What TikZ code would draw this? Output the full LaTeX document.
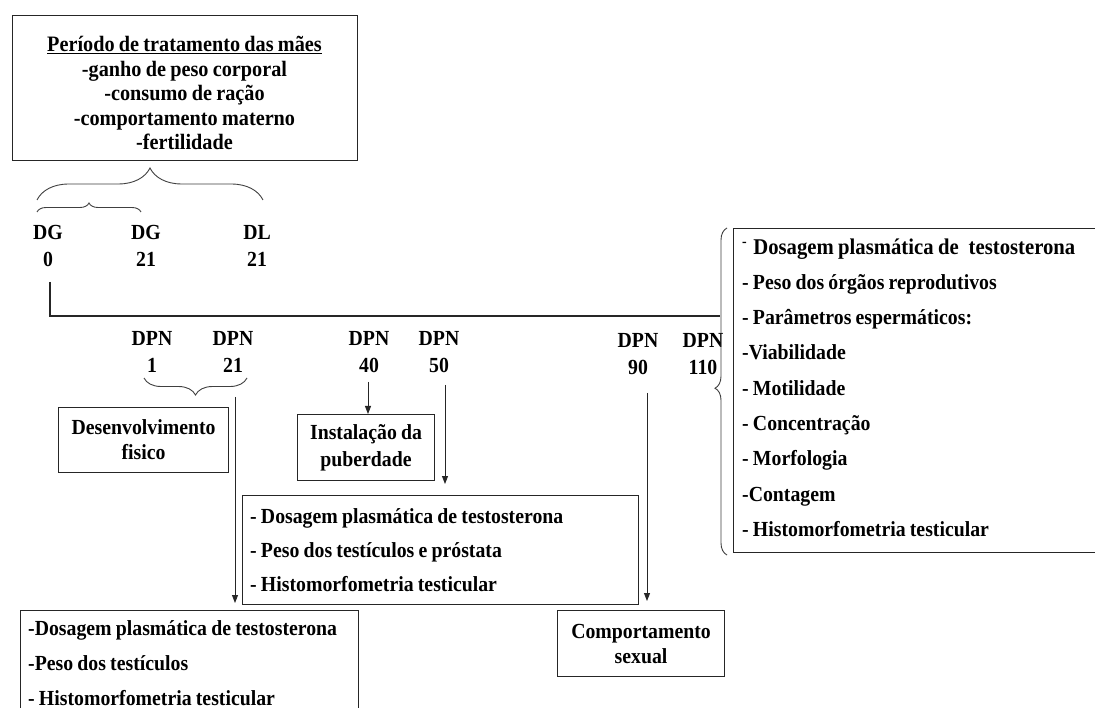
\documentclass[tikz,border=0pt]{standalone}
\usepackage{fontspec}
\setmainfont[FakeStretch=0.92, WordSpace=0.85]{Liberation Serif}
\usetikzlibrary{decorations.pathreplacing,arrows.meta}
\begin{document}
\begin{tikzpicture}[x=1pt,y=-1pt,
  box/.style={draw=black!85, line width=1.1pt, inner sep=0pt, rectangle},
  txt/.style={inner sep=0pt, align=left, anchor=west},
  lbl/.style={align=center, inner sep=0pt, font=\fontsize{21.5}{26.5}\selectfont\bfseries},
  arr/.style={-{Triangle[length=8pt,width=6pt]}, line width=0.9pt, draw=black!85},
  brc/.style={decorate, decoration={brace, amplitude=#1}, line width=0.9pt, draw=black!75},
  brcm/.style={decorate, decoration={brace, mirror, amplitude=#1}, line width=0.9pt, draw=black!75},
  brcl/.style={decorate, decoration={brace, amplitude=#1, aspect=0.51}, line width=0.9pt, draw=black!75}
]
\fill[white] (0,0) rectangle (1095,708);
\useasboundingbox (0,0) rectangle (1095,708);

% top box
\node[box, anchor=north west, minimum width=345, minimum height=145] (mae) at (12,15) {};
\node[inner sep=0pt, align=center, font=\fontsize{22}{24.5}\selectfont\bfseries] (maet) at (184.5,93)
  {\underline{Período de tratamento das mães}\\-ganho de peso corporal\\-consumo de ração\\-comportamento materno\\-fertilidade};

% braces above DG labels
\draw[brc=32] (37,200) -- (263,200);
\draw[brc=9] (37,212) -- (141,212);

% DG labels
\node[lbl] (dg0) at (48,246) {DG\\0};
\node[lbl] (dg21) at (146,246) {DG\\21};
\node[lbl] (dl21) at (257,246) {DL\\21};

% timeline
\coordinate (t0) at (50,282);
\coordinate (tend) at (720,316);
\draw[line width=1.1pt, black!85] (t0) |- (tend);

% DPN labels
\node[lbl] (p1) at (152,352) {DPN\\1};
\node[lbl] (p21) at (233,352) {DPN\\21};
\node[lbl] (p40) at (369,352) {DPN\\40};
\node[lbl] (p50) at (439,352) {DPN\\50};
\node[lbl] (p90) at (638,354) {DPN\\90};
\node[lbl] (p110) at (703,354) {DPN\\110};

% brace under DPN 1 - 21
\draw[brcm=17] (144,378) -- (247,378);

% boxes with centred text
\node[box, anchor=north west, minimum width=170, minimum height=65, align=center,
  font=\fontsize{21.5}{25}\selectfont\bfseries] (dev) at (58,407) {Desenvolvimento\\fisico};
\node[box, anchor=north west, minimum width=137, minimum height=66, align=center,
  font=\fontsize{21.5}{27}\selectfont\bfseries] (pub) at (297,414) {Instalação da\\puberdade};
\node[box, anchor=north west, minimum width=167, minimum height=66, align=center,
  font=\fontsize{21.5}{25}\selectfont\bfseries] (cmp) at (557,610) {Comportamento\\sexual};

% boxes with left-aligned text
\node[box, anchor=north west, minimum width=396, minimum height=109] (d50) at (242,495) {};
\node[txt, font=\fontsize{21.5}{34}\selectfont\bfseries] (d50t) at ([xshift=8pt]d50.west)
  {- Dosagem plasmática de testosterona\\- Peso dos testículos e próstata\\- Histomorfometria testicular};

\node[box, anchor=north west, minimum width=338, minimum height=105] (bl) at (20,610) {};
\node[txt, font=\fontsize{21.5}{35}\selectfont\bfseries] (blt) at ([xshift=8pt]bl.west)
  {-Dosagem plasmática de testosterona\\-Peso dos testículos\\- Histomorfometria testicular};

\node[box, anchor=north west, minimum width=380, minimum height=324] (rt) at (733,228) {};
\node[txt, font=\fontsize{21.5}{35.3}\selectfont\bfseries] (rtt) at ([xshift=9pt,yshift=3pt]rt.west)
  {\textsuperscript{-}\hspace{6pt}{\fontsize{22.5}{35.3}\selectfont Dosagem plasmática de\hspace{10pt}testosterona}\\- Peso dos órgãos reprodutivos\\- Parâmetros espermáticos:\\-Viabilidade\\- Motilidade\\- Concentração\\- Morfologia\\-Contagem\\- Histomorfometria testicular};

% brace left of right box
\draw[brcl=12] (727,555) -- (727,228);

% arrows
\coordinate (s21) at (235,397);
\coordinate (s40) at (368,382);
\coordinate (s50) at (445,385);
\coordinate (s90) at (647,393);
\draw[arr, shorten >=7pt] (s21) -- (s21 |- bl.north);
\draw[arr] (s40) -- (s40 |- pub.north);
\draw[arr, shorten >=11pt] (s50) -- (s50 |- d50.north);
\draw[arr, shorten >=9pt] (s90) -- (s90 |- cmp.north);
\end{tikzpicture}
\end{document}
